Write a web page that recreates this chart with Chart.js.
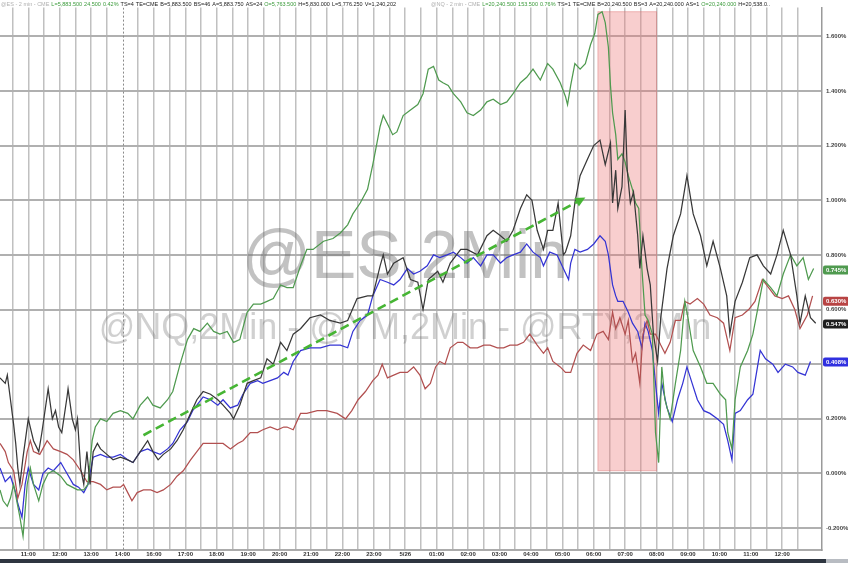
<!DOCTYPE html>
<html>
<head>
<meta charset="utf-8">
<script src="https://cdn.jsdelivr.net/npm/chart.js@4.4.1/dist/chart.umd.min.js"></script>
<style>
    html, body { margin: 0; padding: 0; background: #fff; }
    #wrap { width: 848px; height: 563px; }
</style>
</head>
<body>
<div id="wrap"><canvas id="chart" width="848" height="563"></canvas></div>
<script>
// x = 2-minute bar number counted from the left edge, y = % change
const hourLabels = ['11:00', '12:00', '13:00', '14:00', '16:00', '17:00', '18:00', '19:00', '20:00', '21:00', '22:00', '23:00', '5/26',
    '01:00', '02:00', '03:00', '04:00', '05:00', '06:00', '07:00', '08:00', '09:00', '10:00', '11:00', '12:00'];

// @ES (black)
const esPoints = [[1,0.35],[6,0.33],[8,0.36],[11,0.27],[14,0.18],[16,0.11],[18,0.02],[20,-0.04],[23,0.06],[28,0.20],[33,0.12],[38,0.08],
    [41,0.15],[47,0.31],[51,0.20],[54,0.23],[57,0.17],[60,0.15],[65,0.28],[66,0.31],[70,0.20],[73,0.16],[75,0.20],[78,0.02],[81,-0.04],
    [84,0.08],[87,-0.04],[90,0.08],[94,0.11],[97,0.09],[103,0.07],[109,0.05],[116,0.06],[123,0.05],[128,0.04],[135,0.08],[142,0.12],
    [147,0.08],[152,0.05],[157,0.07],[164,0.09],[170,0.12],[176,0.16],[183,0.22],[189,0.27],[195,0.30],[202,0.29],[209,0.27],[214,0.25],
    [221,0.22],[224,0.20],[230,0.25],[237,0.33],[243,0.34],[250,0.35],[256,0.42],[262,0.40],[269,0.48],[275,0.45],[281,0.51],[288,0.53],
    [297,0.57],[307,0.58],[316,0.56],[326,0.55],[333,0.56],[342,0.64],[352,0.65],[357,0.65],[364,0.76],[367,0.80],[371,0.73],[377,0.77],
    [386,0.79],[393,0.71],[400,0.70],[405,0.60],[410,0.71],[419,0.74],[424,0.70],[431,0.77],[441,0.82],[447,0.82],[457,0.80],[466,0.87],
    [472,0.89],[479,0.87],[485,0.85],[491,0.89],[498,0.97],[504,1.02],[509,1.00],[514,0.89],[520,0.82],[524,0.89],[529,0.89],[534,0.99],
    [539,0.80],[541,0.81],[546,0.87],[550,0.99],[555,1.09],[562,1.15],[568,1.20],[574,1.22],[579,1.13],[584,1.21],[586,0.99],[589,1.11],
    [591,0.97],[595,1.05],[598,1.33],[600,1.11],[603,0.99],[606,1.03],[610,0.87],[612,0.75],[615,0.87],[619,0.75],[622,0.69],[625,0.51],
    [629,0.41],[632,0.57],[638,0.75],[644,0.87],[651,0.95],[657,1.09],[663,0.95],[670,0.87],[676,0.76],[682,0.85],[689,0.75],[695,0.65],
    [698,0.51],[703,0.63],[710,0.70],[717,0.79],[724,0.80],[730,0.76],[737,0.73],[743,0.80],[749,0.89],[756,0.80],[762,0.65],[765,0.55],
    [770,0.65],[775,0.57],[780,0.55]];

// @NQ (green)
const nqPoints = [[1,-0.06],[4,-0.10],[8,-0.12],[11,-0.09],[14,-0.04],[17,-0.10],[20,-0.16],[23,-0.23],[27,-0.04],[30,0.02],[33,-0.04],
    [38,-0.10],[42,-0.04],[47,0.00],[52,0.01],[59,-0.01],[65,-0.04],[70,-0.05],[75,-0.06],[81,-0.06],[85,-0.04],[89,0.12],[92,0.17],
    [97,0.20],[103,0.19],[109,0.22],[116,0.23],[123,0.22],[128,0.20],[135,0.25],[142,0.28],[147,0.25],[154,0.24],[161,0.27],[166,0.30],
    [173,0.40],[180,0.49],[186,0.53],[192,0.52],[199,0.55],[205,0.52],[211,0.51],[218,0.52],[224,0.48],[230,0.49],[237,0.59],[243,0.62],
    [250,0.62],[256,0.63],[262,0.64],[269,0.69],[275,0.68],[281,0.68],[288,0.76],[294,0.82],[300,0.82],[310,0.85],[319,0.86],[326,0.88],
    [333,0.91],[338,0.95],[345,0.99],[352,1.04],[357,1.13],[361,1.21],[364,1.27],[367,1.31],[371,1.28],[376,1.24],[380,1.25],[386,1.31],
    [393,1.33],[400,1.35],[405,1.39],[410,1.48],[415,1.49],[420,1.44],[424,1.43],[429,1.42],[434,1.39],[441,1.36],[447,1.32],[453,1.31],
    [460,1.33],[466,1.36],[472,1.37],[479,1.35],[485,1.36],[491,1.39],[498,1.43],[504,1.45],[510,1.48],[517,1.44],[524,1.50],[529,1.48],
    [536,1.43],[541,1.38],[543,1.35],[546,1.42],[550,1.50],[555,1.48],[560,1.50],[565,1.57],[569,1.61],[572,1.68],[576,1.69],[579,1.65],
    [582,1.56],[584,1.42],[586,1.32],[589,1.24],[591,1.15],[595,1.17],[598,1.14],[601,1.09],[605,1.04],[608,0.99],[611,0.97],[614,0.75],
    [617,0.58],[620,0.56],[624,0.51],[627,0.15],[630,0.04],[633,0.39],[636,0.27],[641,0.20],[646,0.33],[651,0.45],[655,0.63],[658,0.57],
    [663,0.45],[670,0.39],[676,0.33],[682,0.33],[689,0.29],[694,0.27],[696,0.15],[700,0.09],[703,0.27],[708,0.39],[715,0.45],[720,0.51],
    [727,0.65],[730,0.71],[737,0.68],[743,0.65],[749,0.73],[756,0.80],[762,0.76],[768,0.79],[773,0.71],[778,0.75]];

// @RTY (red)
const rtyPoints = [[1,0.11],[6,0.08],[9,0.04],[14,0.01],[18,-0.09],[22,-0.04],[27,0.08],[30,0.12],[33,0.08],[39,0.07],[46,0.12],[52,0.09],
    [59,0.08],[65,0.07],[71,0.05],[78,0.01],[84,-0.03],[90,-0.03],[97,-0.04],[103,-0.06],[109,-0.05],[116,-0.05],[119,-0.04],[123,-0.07],
    [127,-0.10],[132,-0.07],[138,-0.06],[145,-0.06],[151,-0.07],[157,-0.06],[164,-0.04],[170,-0.01],[176,0.01],[183,0.05],[189,0.08],
    [195,0.11],[202,0.11],[209,0.11],[214,0.11],[221,0.09],[228,0.11],[233,0.12],[240,0.15],[247,0.15],[252,0.16],[259,0.17],[266,0.16],
    [272,0.17],[275,0.17],[281,0.16],[288,0.22],[294,0.22],[304,0.23],[313,0.23],[323,0.22],[331,0.20],[337,0.23],[343,0.27],[350,0.30],
    [357,0.34],[362,0.36],[366,0.40],[371,0.35],[377,0.36],[383,0.37],[390,0.37],[396,0.39],[402,0.36],[407,0.31],[412,0.33],[417,0.39],
    [421,0.41],[426,0.40],[431,0.46],[438,0.48],[443,0.48],[450,0.46],[457,0.46],[463,0.47],[469,0.47],[476,0.46],[482,0.46],[488,0.47],
    [495,0.47],[501,0.48],[507,0.51],[514,0.47],[520,0.44],[524,0.46],[529,0.41],[536,0.39],[541,0.37],[546,0.37],[552,0.44],[558,0.47],
    [565,0.45],[571,0.51],[577,0.52],[582,0.49],[586,0.59],[589,0.53],[593,0.57],[598,0.51],[601,0.56],[605,0.41],[608,0.44],[612,0.33],
    [615,0.51],[619,0.56],[622,0.51],[627,0.51],[632,0.47],[636,0.44],[641,0.48],[646,0.56],[651,0.56],[655,0.63],[660,0.62],[667,0.64],
    [673,0.62],[679,0.58],[686,0.57],[692,0.55],[698,0.45],[703,0.57],[710,0.58],[716,0.60],[722,0.63],[729,0.71],[735,0.68],[741,0.65],
    [748,0.64],[754,0.65],[760,0.60],[765,0.53],[772,0.58],[777,0.65]];

// @YM (blue)
const ymPoints = [[1,0.02],[6,-0.03],[11,-0.01],[16,-0.07],[18,-0.11],[22,-0.16],[25,-0.04],[28,0.02],[33,-0.04],[38,-0.06],[42,0.00],
    [47,0.02],[52,0.01],[59,0.04],[65,0.00],[71,-0.04],[76,-0.05],[81,-0.07],[85,-0.04],[90,0.06],[97,0.07],[103,0.06],[109,0.06],
    [116,0.07],[123,0.05],[128,0.04],[135,0.08],[142,0.09],[147,0.08],[154,0.07],[161,0.09],[166,0.11],[173,0.16],[180,0.19],[185,0.23],
    [189,0.25],[195,0.28],[202,0.27],[209,0.25],[214,0.27],[221,0.24],[228,0.25],[233,0.29],[240,0.33],[247,0.34],[252,0.33],[259,0.34],
    [266,0.35],[272,0.37],[276,0.36],[281,0.41],[288,0.45],[297,0.46],[307,0.46],[316,0.47],[326,0.47],[333,0.46],[338,0.52],[345,0.56],
    [352,0.58],[357,0.65],[364,0.71],[371,0.70],[377,0.69],[383,0.71],[390,0.75],[396,0.73],[402,0.74],[409,0.76],[415,0.80],[421,0.79],
    [428,0.80],[434,0.81],[441,0.79],[447,0.77],[453,0.79],[460,0.76],[466,0.80],[472,0.80],[479,0.77],[485,0.79],[491,0.80],[498,0.81],
    [504,0.84],[510,0.81],[517,0.79],[520,0.76],[526,0.81],[533,0.80],[539,0.75],[544,0.71],[546,0.77],[550,0.82],[555,0.81],[562,0.82],
    [568,0.84],[574,0.87],[579,0.85],[582,0.80],[586,0.69],[589,0.65],[591,0.63],[596,0.63],[601,0.59],[605,0.55],[610,0.52],[614,0.46],
    [617,0.55],[620,0.52],[624,0.45],[627,0.33],[630,0.22],[633,0.33],[638,0.24],[643,0.19],[648,0.27],[653,0.33],[657,0.39],[662,0.33],
    [667,0.27],[673,0.23],[679,0.22],[686,0.20],[692,0.18],[696,0.12],[700,0.05],[703,0.22],[708,0.23],[715,0.27],[720,0.29],[727,0.45],
    [732,0.42],[739,0.40],[744,0.37],[751,0.40],[758,0.39],[763,0.37],[770,0.36],[775,0.41]];

const pctTicks = [-0.2, 0, 0.2, 0.4, 0.6, 0.8, 1.0, 1.2, 1.4, 1.6];
const endValues = [0.745, 0.630, 0.547, 0.408];   // NQ, RTY, ES, YM
const sessionBreakBar = 118;
const newsBand = [572, 628, 0.01, 1.69];          // bar from, bar to, pct low, pct high
const trendArrow = [138, 0.14, 560, 1.01];        // bar, pct -> bar, pct

// quote header, two blocks
const esHeader = [
    ['@ES - 2 min - CME', '#b0b0b0'], ['L=5,883.500', '#3a9a3a'], ['24.500', '#3a9a3a'], ['0.42%', '#3a9a3a'], ['TS=4', '#222'],
    ['TE=CME', '#222'], ['B=5,883.500', '#222'], ['BS=46', '#222'], ['A=5,883.750', '#222'], ['AS=24', '#222'],
    ['O=5,763.500', '#3a9a3a'], ['H=5,830.000', '#222'], ['L=5,776.250', '#222'], ['V=1,240,202', '#222']
];
const nqHeader = [
    ['@NQ - 2 min - CME', '#b0b0b0'], ['L=20,240.500', '#3a9a3a'], ['153.500', '#3a9a3a'], ['0.76%', '#3a9a3a'], ['TS=1', '#222'],
    ['TE=CME', '#222'], ['B=20,240.500', '#222'], ['BS=3', '#222'], ['A=20,240.000', '#222'], ['AS=1', '#222'],
    ['O=20,240.000', '#3a9a3a'], ['H=20,538.0..', '#222']
];

const COLORS = { es: '#383838', nq: '#4f9a4f', rty: '#b25050', ym: '#3434d4' };
const FONT = '"Liberation Sans", Arial, sans-serif';

const toXY = pts => pts.map(([x, y]) => ({ x: x, y: y }));

function drawHeaderBlock(ctx, parts, left, right) {
    const widths = parts.map(([t]) => ctx.measureText(t).width);
    const total = widths.reduce((s, w) => s + w, 0);
    const gap = Math.max(2, (right - left - total) / (parts.length - 1));
    let x = left;
    parts.forEach(([t, col], i) => {
        ctx.fillStyle = col;
        ctx.fillText(t, x, 4);
        x += widths[i] + gap;
    });
}

const decorPlugin = {
    id: 'decor',
    beforeDatasetsDraw(chart) {
        const { ctx, chartArea: a, scales: { x, y } } = chart;
        ctx.save();
        ctx.beginPath();
        ctx.rect(a.left, a.top, a.right - a.left, a.bottom - a.top);
        ctx.clip();

        // watermark
        const cx = (a.left + a.right) / 2 - 6;
        ctx.textAlign = 'center';
        ctx.textBaseline = 'alphabetic';
        ctx.fillStyle = 'rgba(110,110,110,0.42)';
        ctx.font = '68px ' + FONT;
        ctx.fillText('@ES,2Min', cx, 278);
        ctx.fillStyle = 'rgba(110,110,110,0.32)';
        ctx.font = '36px ' + FONT;
        ctx.fillText('@NQ,2Min - @YM,2Min - @RTY,2Min', cx, 339);

        // shaded band
        const bx0 = x.getPixelForValue(newsBand[0]);
        const bx1 = x.getPixelForValue(newsBand[1]);
        const by0 = y.getPixelForValue(newsBand[3]);
        const by1 = y.getPixelForValue(newsBand[2]);
        ctx.fillStyle = 'rgba(235,120,120,0.36)';
        ctx.fillRect(bx0, by0, bx1 - bx0, by1 - by0);
        ctx.strokeStyle = 'rgba(220,110,110,0.45)';
        ctx.lineWidth = 1;
        ctx.strokeRect(bx0, by0, bx1 - bx0, by1 - by0);

        // session break
        const sx = Math.round(x.getPixelForValue(sessionBreakBar)) + 0.5;
        ctx.strokeStyle = '#8a8a8a';
        ctx.setLineDash([2, 2]);
        ctx.beginPath();
        ctx.moveTo(sx, a.top);
        ctx.lineTo(sx, a.bottom);
        ctx.stroke();
        ctx.restore();
    },
    afterDatasetsDraw(chart) {
        const { ctx, scales: { x, y } } = chart;
        const x0 = x.getPixelForValue(trendArrow[0]), y0 = y.getPixelForValue(trendArrow[1]);
        const x1 = x.getPixelForValue(trendArrow[2]), y1 = y.getPixelForValue(trendArrow[3]);
        const ang = Math.atan2(y1 - y0, x1 - x0);
        const head = 11;
        ctx.save();
        ctx.strokeStyle = '#46b534';
        ctx.fillStyle = '#46b534';
        ctx.lineWidth = 2.6;
        ctx.setLineDash([9, 5]);
        ctx.beginPath();
        ctx.moveTo(x0, y0);
        ctx.lineTo(x1 - head * 0.8 * Math.cos(ang), y1 - head * 0.8 * Math.sin(ang));
        ctx.stroke();
        ctx.setLineDash([]);
        ctx.beginPath();
        ctx.moveTo(x1, y1);
        ctx.lineTo(x1 - head * Math.cos(ang - 0.45), y1 - head * Math.sin(ang - 0.45));
        ctx.lineTo(x1 - head * Math.cos(ang + 0.45), y1 - head * Math.sin(ang + 0.45));
        ctx.closePath();
        ctx.fill();
        ctx.restore();
    },
    afterDraw(chart) {
        const { ctx, chartArea: a, scales: { y } } = chart;
        ctx.save();

        // header line
        ctx.font = '5.5px ' + FONT;
        ctx.textAlign = 'left';
        ctx.textBaseline = 'middle';
        drawHeaderBlock(ctx, esHeader, 1, 381);
        drawHeaderBlock(ctx, nqHeader, 431, 762);

        // last value badges
        const badgeColors = [COLORS.nq, '#b84444', '#1e1e1e', '#3030e0'];
        ctx.font = 'bold 6px ' + FONT;
        endValues.forEach((v, i) => {
            const py = y.getPixelForValue(v);
            ctx.fillStyle = badgeColors[i];
            ctx.beginPath();
            ctx.roundRect(a.right + 1, py - 4.5, 26, 9, 2);
            ctx.fill();
            ctx.fillStyle = '#fff';
            ctx.fillText(v.toFixed(3) + '%', a.right + 4, py + 0.5);
        });

        // footer strip
        ctx.fillStyle = '#2e3540';
        ctx.fillRect(0, 559, 826, 4);
        ctx.fillStyle = '#b8bcc2';
        ctx.fillRect(826, 559, 22, 4);
        ctx.restore();
    }
};

const lineSet = (label, pts, color) => ({
    label: label,
    data: toXY(pts),
    borderColor: color,
    borderWidth: 1.25,
    pointRadius: 0,
    tension: 0,
    fill: false
});

new Chart(document.getElementById('chart'), {
    type: 'line',
    data: {
        datasets: [
            lineSet('@ES', esPoints, COLORS.es),
            lineSet('@NQ', nqPoints, COLORS.nq),
            lineSet('@RTY', rtyPoints, COLORS.rty),
            lineSet('@YM', ymPoints, COLORS.ym)
        ]
    },
    options: {
        responsive: false,
        animation: false,
        events: [],
        layout: { padding: { top: 4, bottom: 4, left: 0, right: 0 } },
        plugins: {
            legend: { display: false },
            tooltip: { enabled: false }
        },
        scales: {
            x: {
                type: 'linear',
                min: 1,
                max: 786,
                afterBuildTicks: scale => {
                    const ticks = [];
                    for (let v = 13; v <= 786; v += 15) ticks.push({ value: v });
                    scale.ticks = ticks;
                },
                afterFit: scale => { scale.height = 9; },
                ticks: {
                    autoSkip: false,
                    maxRotation: 0,
                    padding: 1,
                    font: { family: FONT, size: 6, weight: 'bold' },
                    color: '#333',
                    callback: v => ((v - 28) % 30 === 0 ? hourLabels[(v - 28) / 30] : '')
                },
                grid: {
                    drawTicks: false,
                    lineWidth: 1.5,
                    color: c => (c.tick && c.tick.value === sessionBreakBar ? 'rgba(0,0,0,0)' : '#c0c0c0')
                },
                border: { color: '#ababab', width: 2 }
            },
            y: {
                position: 'right',
                min: -0.28,
                max: 1.705,
                afterBuildTicks: scale => { scale.ticks = pctTicks.map(v => ({ value: v })); },
                afterFit: scale => { scale.width = 26; },
                ticks: {
                    padding: 4,
                    font: { family: FONT, size: 6, weight: 'bold' },
                    color: '#444',
                    callback: v => v.toFixed(3) + '%'
                },
                grid: { drawTicks: false, lineWidth: 2, color: '#b0b0b0' },
                border: { color: '#9a9a9a', width: 1.5 }
            }
        }
    },
    plugins: [decorPlugin]
});
</script>
</body>
</html>
